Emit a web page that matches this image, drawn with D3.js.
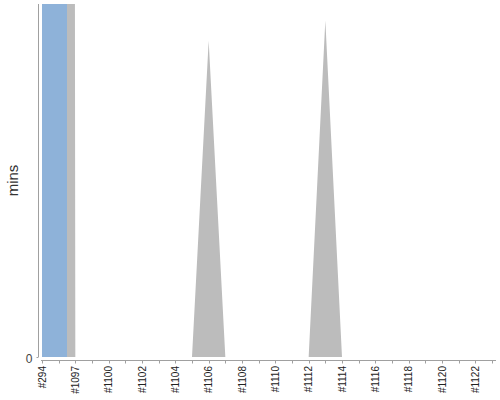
<!DOCTYPE html>
<html>
<head>
<meta charset="utf-8">
<script src="https://cdn.jsdelivr.net/npm/d3@7"></script>
<style>
  html, body { margin: 0; padding: 0; background: #fff; }
  svg { display: block; font-family: "Liberation Sans", Arial, sans-serif; }
</style>
</head>
<body>
<svg id="chart" width="500" height="400"></svg>
<script>
// ---- data ----
const builds = ["#294","#1096","#1097","#1099","#1100","#1101","#1102","#1103","#1104","#1105",
                "#1106","#1107","#1108","#1109","#1110","#1111","#1112","#1113","#1114","#1115",
                "#1116","#1117","#1118","#1119","#1120","#1121","#1122","#1123"];
const durations = [38, 41, 0, 0, 0, 0, 0, 0, 0, 0,
                   0.896, 0, 0, 0, 0, 0, 0, 0.953, 0, 0,
                   0, 0, 0, 0, 0, 0, 0, 0];
const results = ["SUCCESS","SUCCESS","ABORTED","ABORTED","ABORTED","ABORTED","ABORTED","ABORTED","ABORTED","ABORTED",
                 "ABORTED","ABORTED","ABORTED","ABORTED","ABORTED","ABORTED","ABORTED","ABORTED","ABORTED","ABORTED",
                 "ABORTED","ABORTED","ABORTED","ABORTED","ABORTED","ABORTED","ABORTED","ABORTED"];
const yDomain = [0, 1];
const yTicks = [0];
const resultColors = { SUCCESS: "#8eb2d9", ABORTED: "#bcbcbc" };

// ---- layout ----
const svg = d3.select("#chart");
const plot = { left: 42, right: 492, top: 4, bottom: 357 };

const x = d3.scalePoint().domain(builds).range([plot.left, plot.right]).padding(0);
const y = d3.scaleLinear().domain(yDomain).range([plot.bottom, plot.top]);

svg.append("defs").append("clipPath").attr("id", "clip")
  .append("rect")
  .attr("x", plot.left).attr("y", plot.top)
  .attr("width", plot.right - plot.left).attr("height", plot.bottom - plot.top);

// runs of consecutive columns with the same result colour (half-category polygons)
const n = builds.length;
const xi = i => x(builds[i]);
const runs = [];
let start = 0;
for (let i = 1; i <= n; i++) {
  if (i === n || results[i] !== results[start]) { runs.push([start, i - 1]); start = i; }
}
const area = d3.area().x(d => d.x).y0(y(0)).y1(d => y(d.v));

const g = svg.append("g").attr("clip-path", "url(#clip)");
runs.forEach(([a, b]) => {
  const pts = [];
  if (a > 0) pts.push({ x: (xi(a - 1) + xi(a)) / 2, v: (durations[a - 1] + durations[a]) / 2 });
  for (let i = a; i <= b; i++) {
    if (i > a) pts.push({ x: (xi(i - 1) + xi(i)) / 2, v: (durations[i - 1] + durations[i]) / 2 });
    pts.push({ x: xi(i), v: durations[i] });
  }
  if (b < n - 1) pts.push({ x: (xi(b) + xi(b + 1)) / 2, v: (durations[b] + durations[b + 1]) / 2 });
  g.append("path").attr("d", area(pts)).attr("fill", resultColors[results[a]]);
});

// ---- y axis ----
const yAxisX = 38.5;
svg.append("line").attr("x1", yAxisX).attr("x2", yAxisX)
  .attr("y1", plot.top).attr("y2", plot.bottom).attr("stroke", "#a0a0a0").attr("stroke-width", 1);
yTicks.forEach(t => {
  svg.append("line").attr("x1", yAxisX - 2).attr("x2", yAxisX)
    .attr("y1", y(t) + 0.5).attr("y2", y(t) + 0.5).attr("stroke", "#a0a0a0");
  svg.append("text").attr("x", yAxisX - 6).attr("y", y(t) + 2).attr("dy", "0.35em")
    .attr("text-anchor", "end").attr("font-size", 12).attr("fill", "#444").text(t);
});
svg.append("text")
  .attr("transform", `translate(18,${(plot.top + plot.bottom) / 2}) rotate(-90)`)
  .attr("text-anchor", "middle").attr("font-size", 15).attr("fill", "#333").text("mins");

// ---- x axis ----
const xAxisY = 360.5;
svg.append("line").attr("x1", plot.left - 1).attr("x2", 496)
  .attr("y1", xAxisY).attr("y2", xAxisY).attr("stroke", "#a0a0a0");
builds.forEach((bname, i) => {
  const px = Math.round(x(bname)) + 0.5;
  svg.append("line").attr("x1", px).attr("x2", px)
    .attr("y1", xAxisY).attr("y2", xAxisY + 3).attr("stroke", "#a0a0a0");
  if (i % 2 === 0) {
    svg.append("text")
      .attr("transform", `translate(${x(bname)},366) rotate(-90)`)
      .attr("text-anchor", "end").attr("dy", "0.35em")
      .attr("font-size", 10).attr("fill", "#222").text(bname);
  }
});
</script>
</body>
</html>
